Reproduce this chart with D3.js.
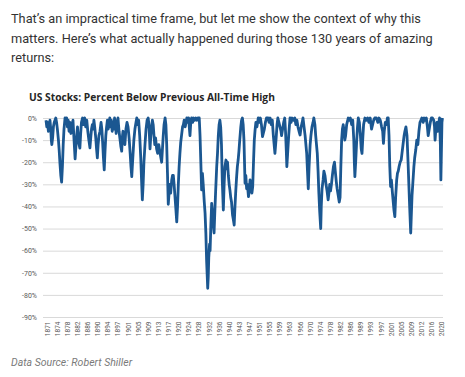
<!DOCTYPE html>
<html>
<head>
<meta charset="utf-8">
<script src="https://cdn.jsdelivr.net/npm/d3@7"></script>
<style>
	html, body { margin: 0; padding: 0; background: #fff; }
	svg { display: block; }
</style>
</head>
<body>
<div id="chart_drawdown"></div>
<script>
////////////////////////////////////////////////////////////////////////////////////////
//Data
////////////////////////////////////////////////////////////////////////////////////////
var introLines = [
	"That\u2019s an impractical time frame, but let me show the context of why this",
	"matters. Here\u2019s what actually happened during those 130 years of amazing",
	"returns:"
];
var chartTitle = "US Stocks: Percent Below Previous All-Time High";
var sourceText = "Data Source: Robert Shiller";

var yTicks = [0, -10, -20, -30, -40, -50, -60, -70, -80, -90];
var xTickLabels = ["1871", "1874", "1878", "1882", "1886", "1890", "1894", "1897", "1901", "1905",
	"1909", "1913", "1917", "1920", "1924", "1928", "1932", "1936", "1940", "1943",
	"1947", "1951", "1955", "1959", "1963", "1966", "1970", "1974", "1978", "1982",
	"1986", "1989", "1993", "1997", "2001", "2005", "2009", "2012", "2016", "2020"];

// 연도(소수) / 고점대비 하락률(%)
var ddYears = [
	1871.0, 1871.3, 1871.6, 1871.9, 1872.2, 1872.5, 1872.8, 1873.0, 1873.2, 1873.5, 1873.8, 1874.1, 1874.4, 1874.7,
	1875.0, 1875.3, 1875.7, 1876.0, 1876.3, 1876.6, 1876.9, 1877.2, 1877.5, 1877.8, 1878.2, 1878.5, 1878.8,
	1879.1, 1879.4, 1879.7, 1880.0, 1880.4, 1880.8, 1881.2, 1881.6, 1882.0, 1882.3, 1882.6, 1882.9, 1883.2,
	1883.5, 1883.8, 1884.1, 1884.4, 1884.8, 1885.2, 1885.6, 1886.0, 1886.4, 1886.8, 1887.2, 1887.6, 1887.9,
	1888.2, 1888.5, 1888.8, 1889.1, 1889.4, 1889.8, 1890.1, 1890.4, 1890.7, 1891.0, 1891.4, 1891.8, 1892.1,
	1892.4, 1892.7, 1893.0, 1893.3, 1893.6, 1893.9, 1894.2, 1894.5, 1894.8, 1895.1, 1895.4, 1895.7, 1896.0,
	1896.3, 1896.6, 1896.9, 1897.2, 1897.5, 1897.8, 1898.2, 1898.6, 1899.0, 1899.3, 1899.6, 1899.9, 1900.1,
	1900.5, 1900.8, 1901.2, 1901.6, 1902.0, 1902.4, 1902.8, 1903.1, 1903.4, 1903.8, 1904.2, 1904.6, 1905.0,
	1905.3, 1905.6, 1906.0, 1906.4, 1906.8, 1907.1, 1907.4, 1907.7, 1908.0, 1908.4, 1908.8, 1909.2, 1909.6,
	1909.9, 1910.3, 1910.6, 1910.9, 1911.2, 1911.5, 1911.8, 1912.1, 1912.4, 1912.8, 1913.2, 1913.6, 1914.0,
	1914.4, 1914.7, 1915.0, 1915.3, 1915.6, 1916.0, 1916.3, 1916.6, 1916.9, 1917.2, 1917.5, 1917.8, 1918.1,
	1918.5, 1918.8, 1919.1, 1919.4, 1919.7, 1920.0, 1920.4, 1920.7, 1921.0, 1921.3, 1921.6, 1921.9, 1922.2,
	1922.6, 1922.9, 1923.2, 1923.6, 1923.9, 1924.2, 1924.6, 1924.9, 1925.2, 1925.4, 1925.7, 1926.0, 1926.4,
	1926.8, 1927.2, 1927.6, 1928.0, 1928.4, 1928.9, 1929.2, 1929.5, 1929.8, 1930.1, 1930.4, 1930.8, 1931.1,
	1931.4, 1931.7, 1932.0, 1932.1, 1932.3, 1932.5, 1932.8, 1933.0, 1933.3, 1933.6, 1933.9, 1934.2, 1934.5,
	1934.8, 1935.1, 1935.5, 1935.8, 1936.1, 1936.4, 1936.7, 1937.0, 1937.3, 1937.6, 1938.0, 1938.3, 1938.6,
	1939.0, 1939.3, 1939.6, 1939.9, 1940.2, 1940.5, 1940.8, 1941.1, 1941.5, 1941.8, 1942.1, 1942.4, 1942.7,
	1943.0, 1943.3, 1943.6, 1943.9, 1944.2, 1944.6, 1944.9, 1945.2, 1945.5, 1945.8, 1946.2, 1946.5, 1946.8,
	1947.1, 1947.5, 1947.8, 1948.1, 1948.5, 1948.8, 1949.1, 1949.4, 1949.7, 1950.0, 1950.3, 1950.7, 1951.2,
	1951.6, 1952.0, 1952.4, 1952.8, 1953.1, 1953.5, 1953.9, 1954.3, 1954.9, 1955.3, 1955.7, 1956.1, 1956.5,
	1956.9, 1957.2, 1957.5, 1957.9, 1958.3, 1958.6, 1959.0, 1959.4, 1959.8, 1960.0, 1960.4, 1960.8, 1961.2,
	1961.5, 1961.8, 1962.0, 1962.3, 1962.7, 1963.0, 1963.2, 1963.6, 1964.0, 1964.5, 1965.0, 1965.4, 1965.8,
	1966.2, 1966.6, 1967.0, 1967.4, 1967.8, 1968.1, 1968.5, 1968.9, 1969.2, 1969.5, 1969.8, 1970.1, 1970.4,
	1970.8, 1971.1, 1971.5, 1971.9, 1972.2, 1972.6, 1972.9, 1973.2, 1973.5, 1973.8, 1974.1, 1974.4, 1974.8,
	1975.0, 1975.3, 1975.7, 1976.0, 1976.4, 1976.8, 1977.2, 1977.6, 1977.9, 1978.2, 1978.5, 1978.9, 1979.2,
	1979.6, 1980.0, 1980.3, 1980.7, 1981.0, 1981.4, 1981.8, 1982.1, 1982.4, 1982.7, 1983.0, 1983.3, 1983.6,
	1983.9, 1984.2, 1984.6, 1985.2, 1985.6, 1986.0, 1986.5, 1986.9, 1987.3, 1987.5, 1987.7, 1988.0, 1988.4,
	1988.7, 1989.0, 1989.4, 1989.8, 1990.1, 1990.4, 1990.7, 1991.0, 1991.5, 1992.0, 1992.5, 1993.0, 1993.5,
	1994.0, 1994.4, 1994.8, 1995.2, 1995.8, 1996.4, 1996.8, 1997.3, 1997.8, 1998.2, 1998.5, 1998.8, 1999.2,
	1999.6, 2000.0, 2000.3, 2000.6, 2000.9, 2001.2, 2001.5, 2001.9, 2002.2, 2002.5, 2002.8, 2003.1, 2003.5,
	2003.8, 2004.1, 2004.4, 2004.8, 2005.2, 2005.5, 2005.9, 2006.3, 2006.6, 2007.0, 2007.4, 2007.8, 2008.1,
	2008.4, 2008.8, 2009.0, 2009.3, 2009.6, 2010.0, 2010.3, 2010.7, 2011.1, 2011.5, 2011.9, 2012.3, 2012.7,
	2013.0, 2013.5, 2013.9, 2014.3, 2014.7, 2015.1, 2015.4, 2015.8, 2016.2, 2016.6, 2017.0, 2017.5, 2017.8,
	2018.0, 2018.3, 2018.7, 2019.0, 2019.4, 2019.7, 2020.0, 2020.2, 2020.4, 2020.6, 2020.8
];
var ddValues = [
	-1, -4, -2, -6, -3, -1, -5, -10, -12, -9, -4, -2, -1, 0,
	-2, -5, -10, -15, -21, -26, -29, -22, -12, -5, 0, -2, 0,
	-4, -1, -6, -2, -7, -3, -1, -10, -18.5, -13, -8, -4, -9,
	-12, -13.6, -7, -2, 0, -3, 0, -4, -1, -6, -10, -13.5, -9,
	-5, -3, -5, -1, -4, -9, -14, -18, -12, -8, -6, -2, -5,
	-11, -18, -23.5, -15, -8, -4, -1, -5, -2, 0, -4, -1, -6,
	-2, -5, 0, -2, -7, -3, 0, -6, -10, -13, -15, -8, -6,
	-10, -12, -5, -2, -4, -9, -16, -22, -26.5, -18, -10, -5, -2,
	0, -3, -1, -8, -18, -28, -37, -30, -20, -12, -5, -1, 0,
	-3, -14, -8, -4, -1, -3, -8, -12, -9, -14, -16, -12, -15,
	-18, -20, -14, -8, -3, 0, -3, -12, -25, -39, -34, -30, -34,
	-28, -26, -26, -30, -35, -40, -47, -40, -30, -22, -16, -11, -8,
	-4, -3, -1, -4, -2, 0, -2, 0, -5, -8, -2, 0, -2,
	0, -1, 0, -1, 0, 0, -8, -20, -32.5, -25, -30, -38, -43,
	-52, -65, -74, -77, -72, -63, -57, -60, -48, -38.6, -43, -48, -52,
	-42, -33, -22, -16, -8, -3, -1, -4, -12, -28, -41.6, -30, -22,
	-19, -23, -20, -26, -30, -32.6, -36, -38, -44, -46, -48.4, -40, -33,
	-27, -22, -19, -15, -10, -4, -1, 0, -3, -10, -29.5, -26, -32,
	-30, -35.6, -33, -28, -31, -34, -31, -20, -10, -5.4, -2, -4, 0,
	-2, 0, -3, -8.4, -7, -5, -2, 0, 0, -2, 0, -3, -1,
	-8, -12, -16, -10, -3, 0, -2, -4, -6, -8, -5, -2, 0,
	-6, -15, -22, -16, -8, -3, 0, -2, 0, -1, 0, -3, -1,
	-4, -6, -7.7, -4, -2, 0, -4, -8, -12, -16, -24, -32, -22,
	-12, -8, -4, -2, 0, -3, -8, -12, -16, -24, -34, -42, -50,
	-40, -32, -28, -24, -26, -30, -33, -37, -34, -30, -33, -29.5, -26,
	-22, -20, -24, -29, -32, -35, -38, -36, -22, -10, -5, -3, -6,
	-10, -8, -3, 0, -1, 0, -3, -1, -10, -20, -26.5, -20, -10,
	-4, 0, -2, -8, -14, -16, -9, -3, 0, -1, 0, -2, 0,
	-5, -3, -1, 0, 0, -2, 0, -1, -4, -6, -11.5, -6, -2,
	-3, 0, 0, -8, -22, -31, -28, -34, -38, -42, -44.6, -36, -28,
	-25, -24, -22, -20, -19, -16, -12, -8, -6, -4, -8, -20, -30,
	-40, -52, -45, -35, -29.5, -22, -18, -14.5, -10, -12, -6, -2, -1,
	0, -2, 0, -1, 0, -4, -8, -5, -2, 0, 0, -1, -4,
	-10, -5, -2, -6, -2, 0, -12, -28, -15, -2, 0
];

////////////////////////////////////////////////////////////////////////////////////////
//글자 폭 맞춤
////////////////////////////////////////////////////////////////////////////////////////
function fitFontSize(sel, targetWidth, baseSize) {
	var w = sel.node().getComputedTextLength();
	var size = baseSize * targetWidth / w;
	sel.attr("font-size", size.toFixed(2) + "px");
	return size;
}

////////////////////////////////////////////////////////////////////////////////////////
//Draw
////////////////////////////////////////////////////////////////////////////////////////
function drawDrawdownChart() {
	var width = 465, height = 377;
	var plot = {left: 46, right: 443, top: 118, bottom: 317};

	var svg = d3.select("#chart_drawdown")
		.append("svg")
		.attr("width", width)
		.attr("height", height);

	// 본문 텍스트
	var intro = svg.append("g")
		.selectAll("text")
		.data(introLines)
		.join("text")
		.attr("x", 11)
		.attr("y", function (d, i) { return 23 + i * 19.5; })
		.attr("font-family", "Roboto, sans-serif")
		.attr("font-size", "14px")
		.attr("fill", "#333")
		.text(function (d) { return d; });
	var introSize = fitFontSize(intro.filter(function (d, i) { return i === 0; }), 410, 14);
	intro.attr("font-size", introSize.toFixed(2) + "px");

	// 차트 타이틀
	var title = svg.append("text")
		.attr("x", 29)
		.attr("y", 101)
		.attr("font-family", "'Open Sans', sans-serif")
		.attr("font-weight", "bold")
		.attr("font-size", "10px")
		.attr("fill", "#262626")
		.text(chartTitle);
	fitFontSize(title, 246, 10);

	var x = d3.scaleLinear().domain([1871, 2021]).range([plot.left, plot.right]);
	var y = d3.scaleLinear().domain([-90, 0]).range([plot.bottom, plot.top]);

	// 그리드 + y축
	var yAxis = d3.axisLeft(y)
		.tickValues(yTicks)
		.tickSize(-(plot.right - plot.left + 3))
		.tickPadding(6)
		.tickFormat(function (d) { return d + "%"; });

	var gy = svg.append("g")
		.attr("transform", "translate(" + (plot.left - 3) + ",0)")
		.call(yAxis);
	gy.select(".domain").remove();
	gy.selectAll(".tick line").attr("stroke", "#d9d9d9").attr("stroke-width", 1);
	gy.selectAll(".tick text")
		.attr("font-family", "Roboto, sans-serif")
		.attr("font-size", "7px")
		.attr("fill", "#595959");

	// x축 (카테고리 라벨 균등 배치)
	var tickStart = 1871.4, tickStep = (2020.5 - 1871.4) / (xTickLabels.length - 1);
	var xAxis = d3.axisBottom(x)
		.tickValues(xTickLabels.map(function (d, i) { return tickStart + i * tickStep; }))
		.tickSize(0)
		.tickFormat(function (d, i) { return xTickLabels[i]; });

	var gx = svg.append("g")
		.attr("transform", "translate(0," + plot.bottom + ")")
		.call(xAxis);
	gx.select(".domain").remove();
	gx.selectAll(".tick text")
		.attr("font-family", "Roboto, sans-serif")
		.attr("font-size", "6.5px")
		.attr("fill", "#595959")
		.attr("text-anchor", "end")
		.attr("dy", "0.32em")
		.attr("transform", "translate(0,4.5) rotate(-90)")
		.attr("x", 0)
		.attr("y", 0);

	// 하락률 라인
	var series = ddYears.map(function (d, i) { return {year: d, value: ddValues[i]}; });
	svg.append("path")
		.datum(series)
		.attr("fill", "none")
		.attr("stroke", "#1b5791")
		.attr("stroke-width", 2.8)
		.attr("stroke-linejoin", "round")
		.attr("d", d3.line()
			.x(function (d) { return x(d.year); })
			.y(function (d) { return y(d.value); }));

	// 출처
	svg.append("text")
		.attr("x", 11)
		.attr("y", 366)
		.attr("font-family", "Roboto, sans-serif")
		.attr("font-style", "italic")
		.attr("font-size", "10.5px")
		.attr("fill", "#7a7a7a")
		.text(sourceText);
}

drawDrawdownChart();
</script>
</body>
</html>
